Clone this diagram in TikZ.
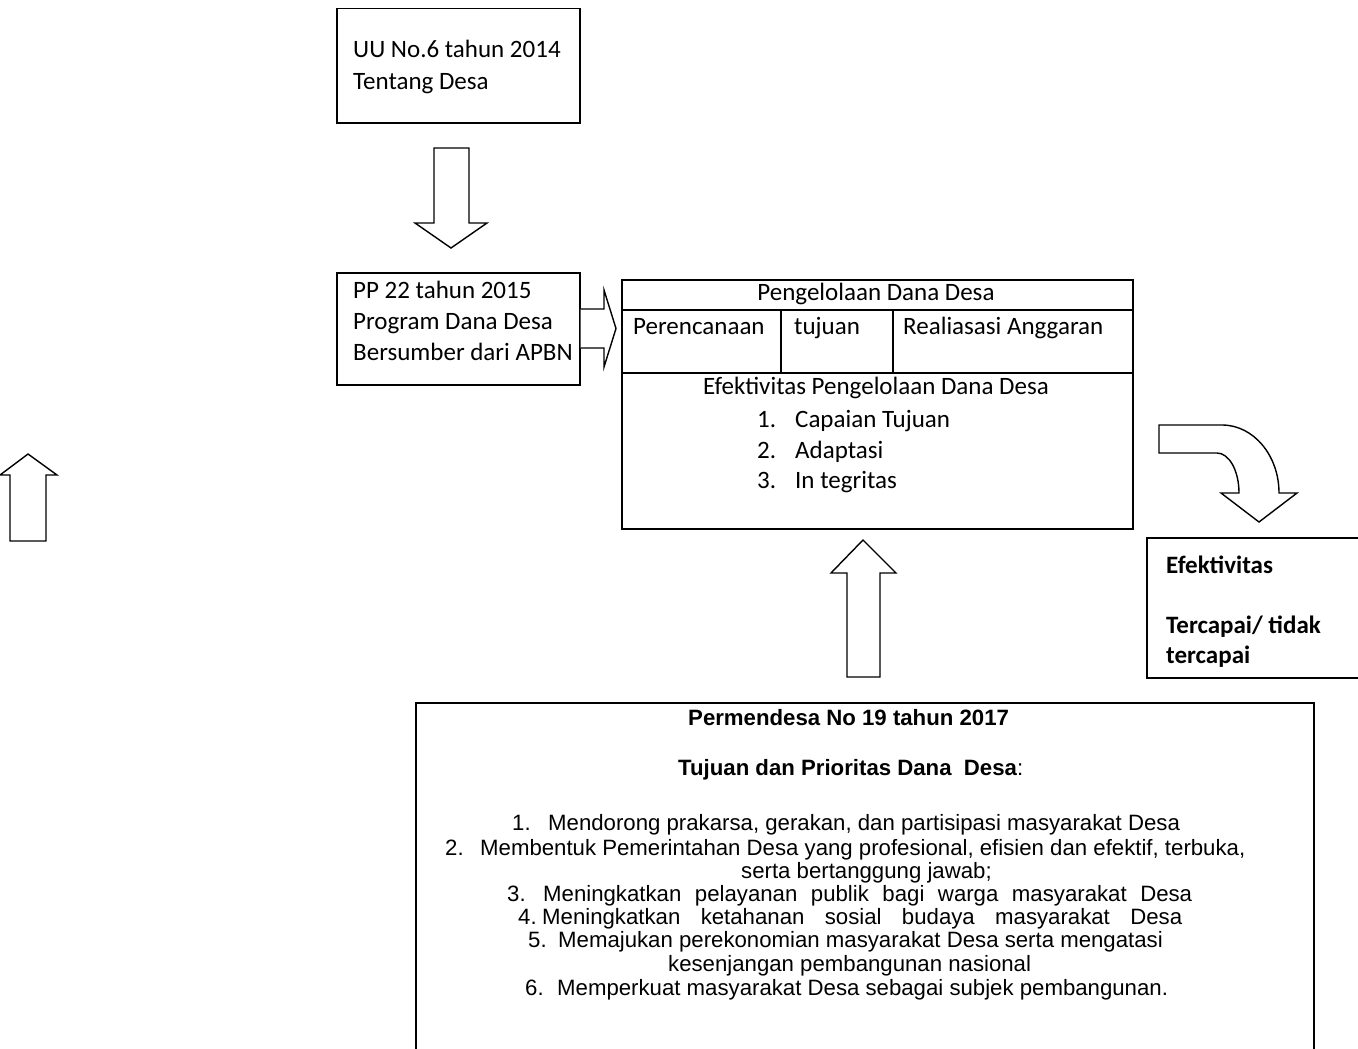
\documentclass[tikz,border=0pt]{standalone}
\usepackage{fontspec}
\setmainfont{Carlito}
\newfontfamily\arialf{Liberation Sans}
\usetikzlibrary{calc}
\begin{document}
\begin{tikzpicture}[x=1pt,y=-1pt,
  box/.style={draw,line width=1.5pt,inner sep=0pt,anchor=north west},
  blk/.style={draw,line width=1.4pt,line join=miter,fill=white},
  cal/.style={font=\fontsize{25}{30}\selectfont,inner sep=0pt,text height=17pt,text depth=5pt},
  calw/.style={cal,anchor=west},
  calb/.style={cal,anchor=west,font=\bfseries\fontsize{25}{30}\selectfont},
  ari/.style={font=\arialf\fontsize{22.2}{25}\selectfont,inner sep=0pt,anchor=west,text height=16pt,text depth=5pt},
]
\useasboundingbox (0,0) rectangle (1358,1049);

% boxes
\node[box,minimum width=243pt,minimum height=114pt] (uu) at (336,8) {};
\node[box,minimum width=243pt,minimum height=112pt] (pp) at (336,272) {};
\node[box,minimum width=511pt,minimum height=249pt] (main) at (621,279) {};
\node[box,minimum width=224pt,minimum height=140pt] (ef) at (1146,537) {};
\node[box,minimum width=898pt,minimum height=368pt] (perm) at (415,702) {};

% main box internal lines
\draw[line width=1.5pt] ($(main.north west)+(0,31)$) coordinate (h1l) -- ($(main.north east)+(0,31)$) coordinate (h1r);
\draw[line width=1.5pt] ($(main.north west)+(0,94)$) coordinate (h2l) -- ($(main.north east)+(0,94)$) coordinate (h2r);
\draw[line width=1.5pt] ($(h1l)+(160,0)$) coordinate (v1t) -- ($(h2l)+(160,0)$) coordinate (v1b);
\draw[line width=1.5pt] ($(h1l)+(272,0)$) coordinate (v2t) -- ($(h2l)+(272,0)$) coordinate (v2b);

% texts box 1 and 2
\node[calw] (uu1) at (353,52) {UU No.6 tahun 2014};
\node[calw] (uu2) at (353,83) {Tentang Desa};
\node[calw] (pp1) at (353,292) {PP 22 tahun 2015};
\node[calw] (pp2) at (353,323) {Program Dana Desa};
\node[calw] (pp3) at (353,354) {Bersumber dari APBN};

% main box texts
\node[cal] (pdd) at (876,294) {Pengelolaan Dana Desa};
\node[calw] (per) at (633,328) {Perencanaan};
\node[calw] (tuj) at (794,328) {tujuan};
\node[calw] (rea) at (903,328) {Realiasasi Anggaran};
\node[cal] (epd) at (876,388) {Efektivitas Pengelolaan Dana Desa};
\node[calw] (c1) at (757,421) {\makebox[38pt][l]{1.}Capaian Tujuan};
\node[calw] (c2) at (757,452) {\makebox[38pt][l]{2.}Adaptasi};
\node[calw] (c3) at (757,482) {\makebox[38pt][l]{3.}In tegritas};

% efektivitas box
\node[calb] (e1) at (1166,567) {Efektivitas};
\node[calb] (e2) at (1166,627) {Tercapai/ tidak};
\node[calb] (e3) at (1166,657) {tercapai};

% permendesa box
\node[ari] (t1) at (688,720) {\bfseries Permendesa No 19 tahun 2017};
\node[ari] (t2) at (678,770) {{\bfseries Tujuan dan Prioritas Dana\ \ Desa}:};
\node[ari] (l1) at (512,825) {\makebox[36pt][l]{1.}Mendorong prakarsa, gerakan, dan partisipasi masyarakat Desa};
\node[ari] (l2) at (445,850) {\makebox[35pt][l]{2.}Membentuk Pemerintahan Desa yang profesional, efisien dan efektif, terbuka,};
\node[ari] (l2b) at (741,873) {serta bertanggung jawab;};
\node[ari] (l3) at (507,896) {\makebox[36pt][l]{3.}\makebox[649pt][s]{Meningkatkan pelayanan publik bagi warga masyarakat Desa}};
\node[ari] (l4) at (518,919) {\makebox[24pt][l]{4.}\makebox[640pt][s]{Meningkatkan ketahanan sosial budaya masyarakat Desa}};
\node[ari] (l5) at (528,942) {\makebox[30pt][l]{5.}Memajukan perekonomian masyarakat Desa serta mengatasi};
\node[ari] (l5b) at (668,966) {kesenjangan pembangunan nasional};
\node[ari] (l6) at (525,990) {\makebox[32pt][l]{6.}Memperkuat masyarakat Desa sebagai subjek pembangunan.};

% block arrows
% down arrow (uu -> pp)
\draw[blk] (434,148) -- (469,148) -- (469,223) -- (487,223) -- (451,248) -- (415,223) -- (434,223) -- cycle;
% right arrow (pp -> main)
\draw[blk] (pp.east |- 0,309) -- (604,309) -- (604,290) -- (616,328.5) -- (604,367) -- (604,348) -- (pp.east |- 0,348);
% up arrow (perm -> main)
\draw[blk] (847,677) -- (847,573) -- (831,573) -- (863,540) -- (896,573) -- (880,573) -- (880,677) -- cycle;
% left up arrow
\draw[blk] (10,541) -- (10,475) -- (0,475) -- (28,454) -- (57,475) -- (46,475) -- (46,541) -- cycle;
% curved arrow
\draw[blk] (1159,425) -- (1222,425) .. controls (1253.5,425) and (1279,455.4) .. (1279,493)
  -- (1297,493) -- (1259,522) -- (1221,493) -- (1239,493)
  .. controls (1239,470.9) and (1229.2,453) .. (1217,453) -- (1159,453) -- cycle;
\end{tikzpicture}
\end{document}
